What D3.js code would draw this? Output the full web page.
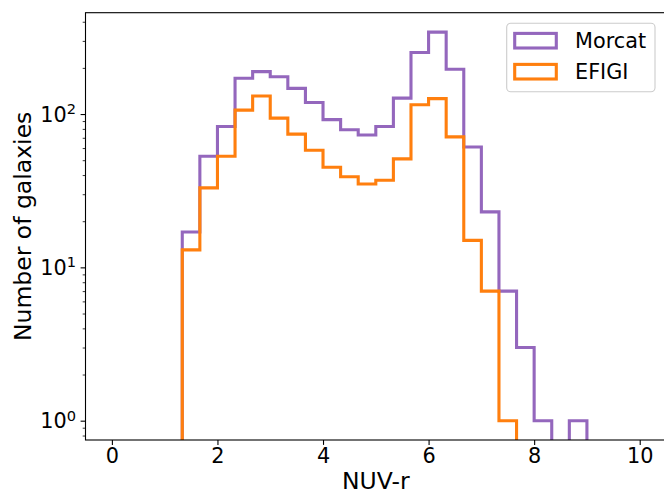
<!DOCTYPE html>
<html>
<head>
<meta charset="utf-8">
<script src="https://cdn.jsdelivr.net/npm/d3@7"></script>
<style>
  html, body { margin: 0; padding: 0; background: #fff; }
  svg { display: block; }
  text { font-family: "DejaVu Sans", sans-serif; fill: #000; }
</style>
</head>
<body>
<svg id="chart" width="664" height="495"></svg>
<script>
// ---- data ----
const binEdgesStart = 0;
const binEdgesEnd = 10;
const binCount = 30;
const seriesNames = ["Morcat", "EFIGI"];
const seriesColors = ["#9467bd", "#ff7f0e"];
const morcatCounts = [0, 0, 0, 0, 17, 53, 83, 171, 189, 175, 147, 119, 92, 79, 73, 83, 127, 252, 342, 196, 61, 23, 7, 3, 1, 0, 1, 0, 0, 0];
const efigiCounts  = [0, 0, 0, 0, 13, 33, 53, 106, 131, 94, 74, 58, 45, 39, 35, 37, 51, 115, 126, 71, 15, 7, 1, 0, 0, 0, 0, 0, 0, 0];
const xTicks = [0, 2, 4, 6, 8, 10];
const yMajorExps = [0, 1, 2];
const xLabel = "NUV-r";
const yLabel = "Number of galaxies";

// ---- layout ----
const svg = d3.select("#chart");
const L = 85.5, R = 666.1, T = 12.7, B = 440;

const x = d3.scaleLinear().domain([-0.5, 10.5]).range([L, R]);
const y = d3.scaleLog().domain([Math.pow(10, -0.126), Math.pow(10, 2.661)]).range([B, T]);

svg.append("defs").append("clipPath").attr("id", "plotclip")
  .append("rect").attr("x", L).attr("y", T).attr("width", R - L).attr("height", B - T);

// ---- histogram steps ----
const binWidth = (binEdgesEnd - binEdgesStart) / binCount;
function stepPoints(counts) {
  const pts = [[binEdgesStart, 1e-3]];
  counts.forEach((c, i) => {
    const v = c > 0 ? c : 1e-3;
    pts.push([binEdgesStart + i * binWidth, v]);
    pts.push([binEdgesStart + (i + 1) * binWidth, v]);
  });
  pts.push([binEdgesEnd, 1e-3]);
  return pts;
}
const line = d3.line().x(d => x(d[0])).y(d => y(d[1]));
const plot = svg.append("g").attr("clip-path", "url(#plotclip)");
[morcatCounts, efigiCounts].forEach((counts, k) => {
  plot.append("path")
    .attr("d", line(stepPoints(counts)))
    .attr("fill", "none")
    .attr("stroke", seriesColors[k])
    .attr("stroke-width", 3.1)
    .attr("stroke-linejoin", "miter");
});

// ---- axes ----
const xAxis = d3.axisBottom(x).tickValues(xTicks).tickSize(4.9).tickPadding(3.5).tickFormat(d3.format("d"));
const gx = svg.append("g").attr("transform", `translate(0,${B})`).call(xAxis);
gx.select(".domain").remove();
gx.selectAll(".tick line").attr("stroke", "#000").attr("stroke-width", 1.1);
gx.selectAll(".tick text").attr("font-size", 20.8).attr("font-family", "DejaVu Sans");

// y minor ticks
const minorVals = [];
for (let e = -1; e <= 2; e++) {
  for (let m = 2; m <= 9; m++) {
    const v = m * Math.pow(10, e);
    if (v >= y.domain()[0] && v <= y.domain()[1]) minorVals.push(v);
  }
}
const gyMinor = svg.append("g").attr("transform", `translate(${L},0)`)
  .call(d3.axisLeft(y).tickValues(minorVals).tickSize(2.8).tickFormat(""));
gyMinor.select(".domain").remove();
gyMinor.selectAll(".tick line").attr("stroke", "#000").attr("stroke-width", 0.8);

const majorVals = yMajorExps.map(e => Math.pow(10, e));
const gy = svg.append("g").attr("transform", `translate(${L},0)`)
  .call(d3.axisLeft(y).tickValues(majorVals).tickSize(4.9).tickFormat(""));
gy.select(".domain").remove();
gy.selectAll(".tick line").attr("stroke", "#000").attr("stroke-width", 1.1);

yMajorExps.forEach(e => {
  const t = svg.append("text")
    .attr("x", 76).attr("y", y(Math.pow(10, e)) + 7.6)
    .attr("text-anchor", "end").attr("font-size", 20.8)
    .text("10");
  t.append("tspan").attr("dy", -7.6).attr("font-size", 14.6).text(String(e));
});

// spines
svg.append("rect").attr("x", L).attr("y", T).attr("width", R - L).attr("height", B - T)
  .attr("fill", "none").attr("stroke", "#000").attr("stroke-width", 1.1);

// axis labels
svg.append("text").attr("x", (L + R) / 2).attr("y", 489)
  .attr("text-anchor", "middle").attr("font-size", 23.5).text(xLabel);
svg.append("text").attr("transform", `translate(30.5,${(T + B) / 2}) rotate(-90)`)
  .attr("text-anchor", "middle").attr("font-size", 23.5).text(yLabel);

// ---- legend ----
const lg = svg.append("g");
lg.append("rect").attr("x", 506.7).attr("y", 23.3).attr("width", 148.3).attr("height", 68.4)
  .attr("rx", 4).attr("fill", "#fff").attr("fill-opacity", 0.8)
  .attr("stroke", "#cccccc").attr("stroke-width", 1.1);
const rowCenters = [40.7, 71.7];
seriesNames.forEach((name, k) => {
  lg.append("rect").attr("x", 514.7).attr("y", rowCenters[k] - 7.3)
    .attr("width", 41.6).attr("height", 14.6)
    .attr("fill", "none").attr("stroke", seriesColors[k]).attr("stroke-width", 3.1);
  lg.append("text").attr("x", 575).attr("y", rowCenters[k] + 7.2)
    .attr("font-size", 20.8).text(name);
});
</script>
</body>
</html>
